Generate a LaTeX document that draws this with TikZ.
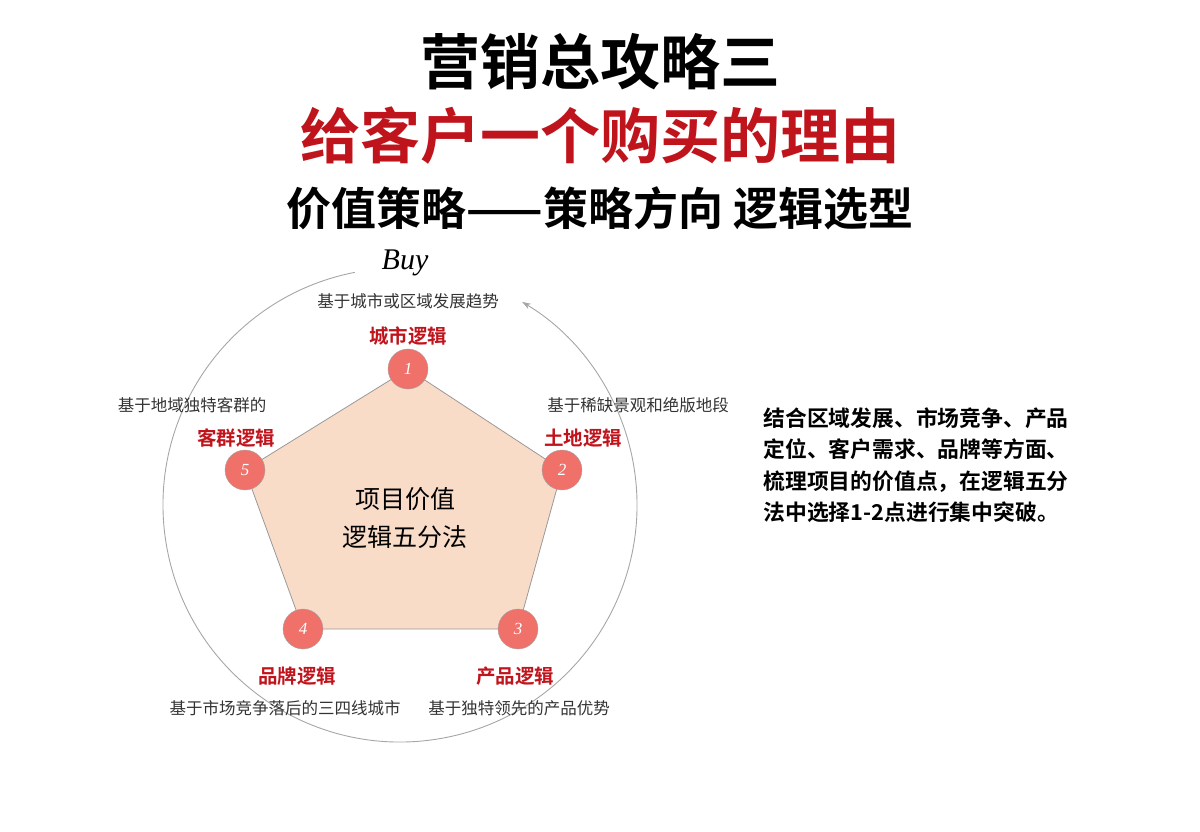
\documentclass[tikz,border=0pt]{standalone}
\usepackage{fontspec}
\setmainfont{Liberation Serif}
\newfontfamily\cjk{Noto Sans CJK SC}
\newfontfamily\cjkb{Noto Sans CJK SC Bold}
\usetikzlibrary{arrows.meta}
\definecolor{tred}{HTML}{C0141C}
\definecolor{pent}{HTML}{F9DCC8}
\definecolor{ball}{HTML}{F0706A}
\begin{document}
\begin{tikzpicture}[x=1pt,y=-1pt,
  ball/.style={circle,fill=ball,draw=gray!70,minimum size=40pt,inner sep=0pt,font=\itshape\fontsize{17}{17}\selectfont,text=white},
  rlab/.style={text=tred,font=\cjkb\fontsize{19.5}{19.5}\selectfont},
  glab/.style={text=black!80,font=\cjk\fontsize{16.5}{16.5}\selectfont},
  rtxt/.style={font=\cjkb\fontsize{21.8}{31.5}\selectfont,align=left,anchor=north west}]
\useasboundingbox (0,0) rectangle (1200,831);
\node (t1) at (600,62) {\cjkb\fontsize{60}{60}\selectfont 营销总攻略三};
\node[text=tred] (t2) at (600,136) {\cjkb\fontsize{60}{60}\selectfont 给客户一个购买的理由};
\node (t3) at (600,208) {\cjkb\fontsize{45}{45}\selectfont 价值策略——策略方向 逻辑选型};
\draw[gray!70,line width=0.9pt,-{Stealth[length=9pt,width=6pt]}] (400,505) ++(-101:237) arc[start angle=-101,end angle=-419,radius=237];
\node (buy) at (405,263) {\itshape\fontsize{30}{30}\selectfont Buy};
\coordinate (p1) at (408,369);
\coordinate (p2) at (562,470);
\coordinate (p3) at (518,629);
\coordinate (p4) at (303,629);
\coordinate (p5) at (245,470);
\fill[pent,draw=gray!80,line width=0.8pt] (p1)--(p2)--(p3)--(p4)--(p5)--cycle;
\node[ball] (b1) at (p1) {1};
\node[ball] (b2) at (p2) {2};
\node[ball] (b3) at (p3) {3};
\node[ball] (b4) at (p4) {4};
\node[ball] (b5) at (p5) {5};
\node[font=\cjk\fontsize{25}{38}\selectfont,align=center] (c) at (405,518) {项目价值\\逻辑五分法};
\node[glab] (g1) at (408,301) {基于城市或区域发展趋势};
\node[rlab] (r1) at (408,336) {城市逻辑};
\node[glab] (g2) at (638,405) {基于稀缺景观和绝版地段};
\node[rlab] (r2) at (583,438) {土地逻辑};
\node[glab] (g5) at (192,405) {基于地域独特客群的};
\node[rlab] (r5) at (236,438) {客群逻辑};
\node[rlab] (r4) at (297,676) {品牌逻辑};
\node[rlab] (r3) at (515,676) {产品逻辑};
\node[glab] (g4) at (285,708) {基于市场竞争落后的三四线城市};
\node[glab] (g3) at (519,708) {基于独特领先的产品优势};
\node[rtxt] (rt) at (760,404) {结合区域发展、市场竞争、产品\\定位、客户需求、品牌等方面、\\梳理项目的价值点，在逻辑五分\\法中选择1-2点进行集中突破。};
\end{tikzpicture}
\end{document}
